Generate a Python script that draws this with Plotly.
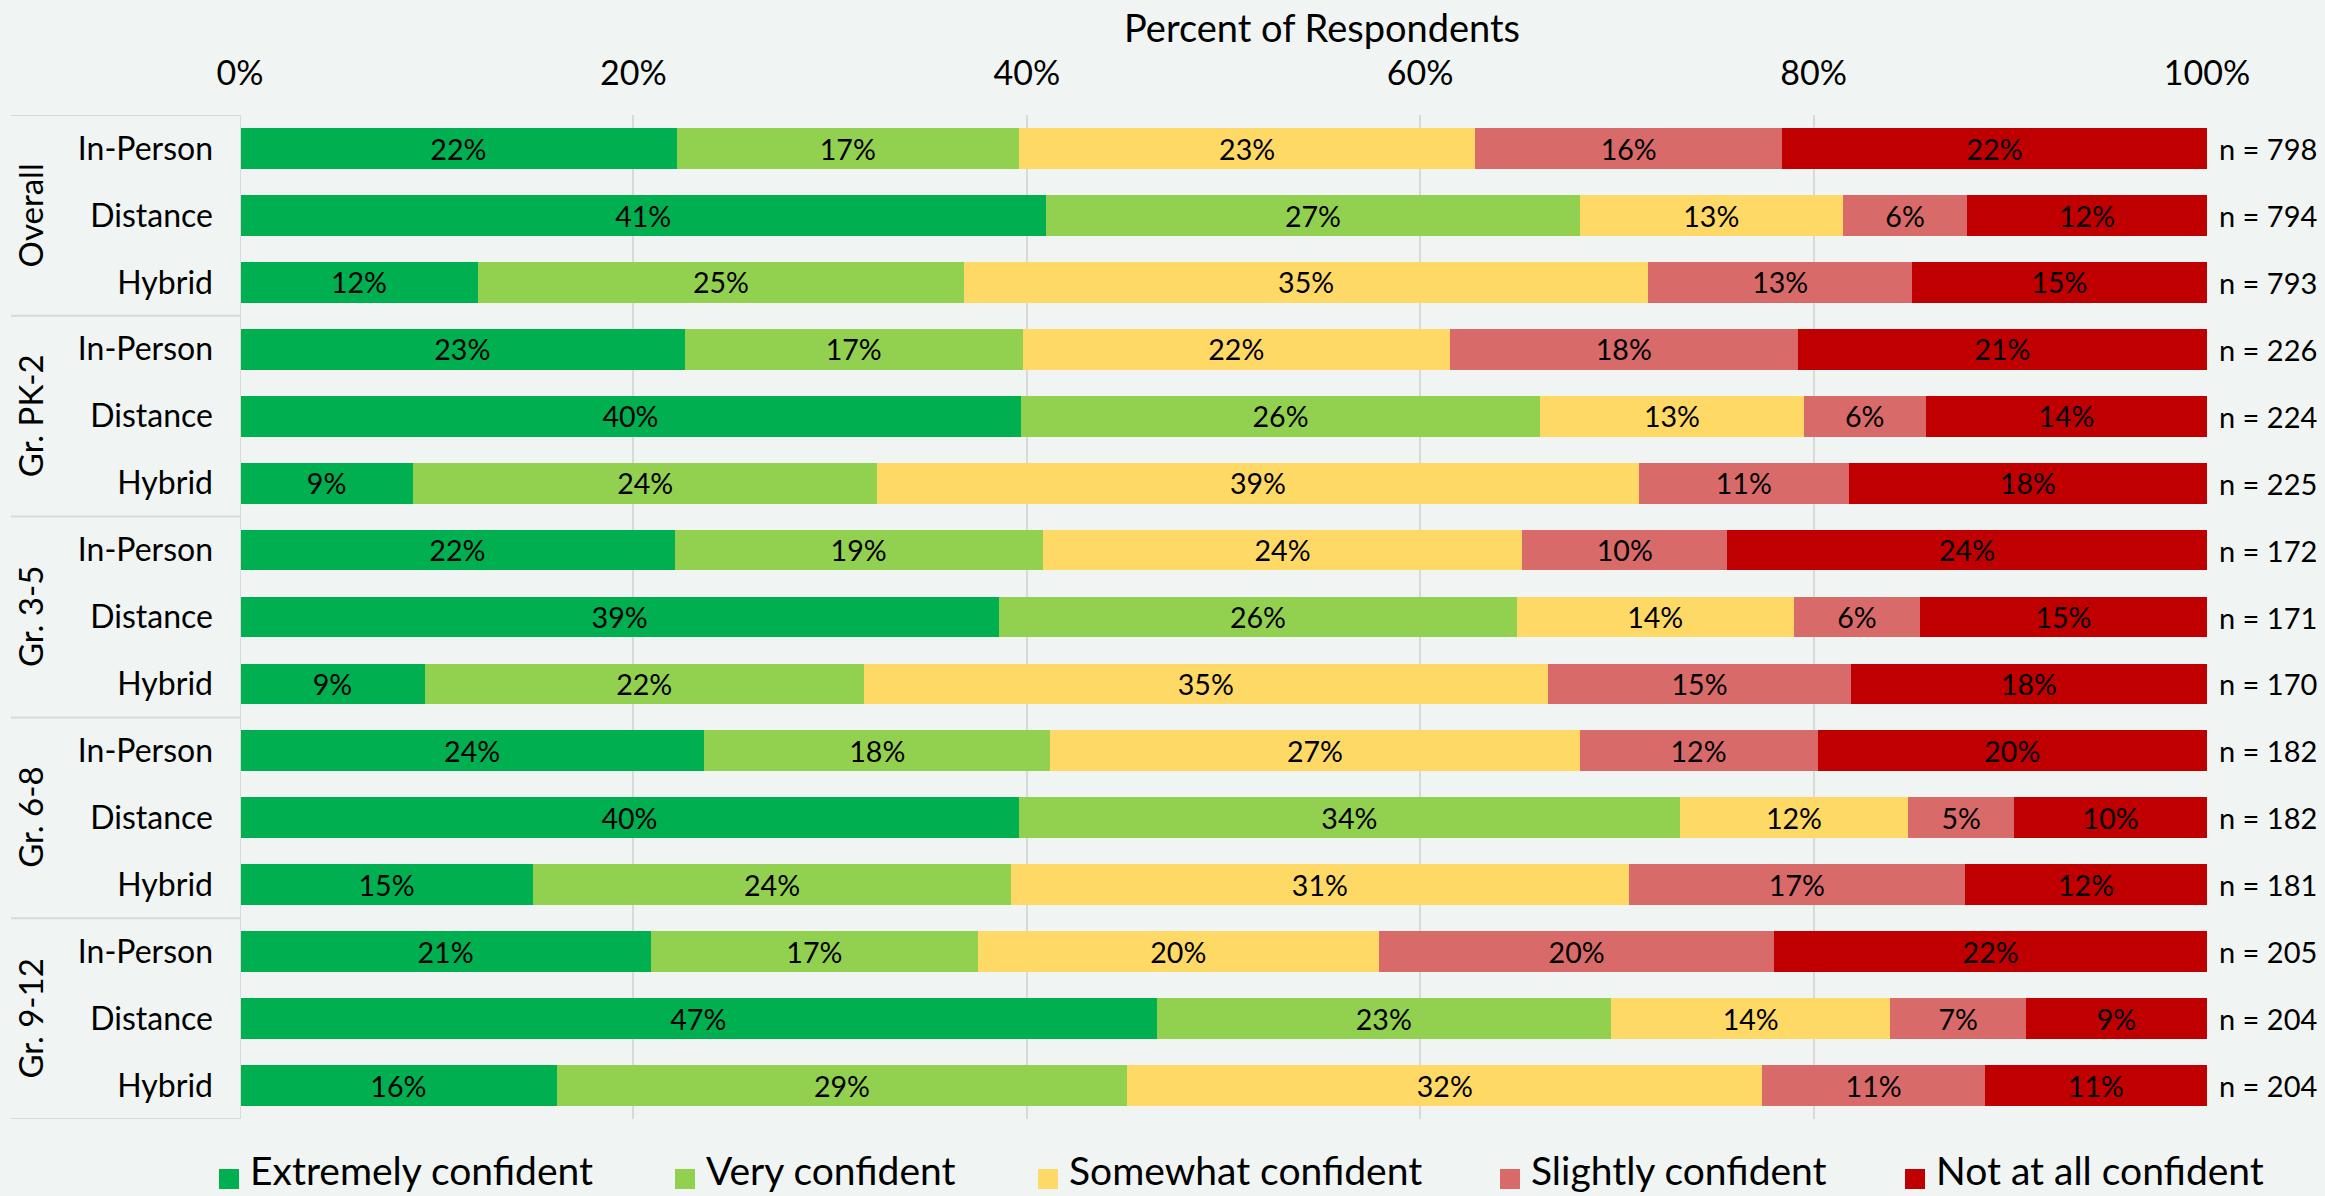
import plotly.graph_objects as go

# ---------------- data ----------------
groups = ["Overall", "Gr. PK-2", "Gr. 3-5", "Gr. 6-8", "Gr. 9-12"]
modes = ["In-Person", "Distance", "Hybrid"]
series_names = ["Extremely confident", "Very confident", "Somewhat confident",
                "Slightly confident", "Not at all confident"]
colors = ["#00B050", "#92D050", "#FFD966", "#D96A6A", "#C00000"]

extremely = [22.2, 41.0, 12.1, 22.6, 39.7, 8.8, 22.1, 38.6, 9.4, 23.6, 39.6, 14.9, 20.9, 46.6, 16.1]
very      = [17.4, 27.1, 24.7, 17.2, 26.4, 23.6, 18.7, 26.3, 22.3, 17.6, 33.6, 24.3, 16.6, 23.1, 29.0]
somewhat  = [23.2, 13.4, 34.8, 21.7, 13.4, 38.7, 24.4, 14.1, 34.8, 26.9, 11.6, 31.4, 20.4, 14.2, 32.3]
slightly  = [15.6, 6.3, 13.4, 17.7, 6.2, 10.7, 10.4, 6.4, 15.4, 12.1, 5.4, 17.1, 20.1, 6.9, 11.3]
not_at_all= [21.6, 12.2, 15.0, 20.8, 14.3, 18.2, 24.4, 14.6, 18.1, 19.8, 9.8, 12.3, 22.0, 9.2, 11.3]
n_values  = [798, 794, 793, 226, 224, 225, 172, 171, 170, 182, 182, 181, 205, 204, 204]
x_ticks = [0, 20, 40, 60, 80, 100]

series = [extremely, very, somewhat, slightly, not_at_all]

# ---------------- layout geometry (pixels) ----------------
W, H = 2325, 1196
L, R, T, B = 240, 2207, 115, 1119
PW, PH = R - L, B - T
def px_x(px):
    return (px - L) / PW
def px_y(py):
    return 1 - (py - T) / PH

FONT = "Lato"
GRID = "#D9D9D9"
BG = "#F0F5F3"

row_labels = [m for g in groups for m in modes]
rows = list(range(len(row_labels)))

fig = go.Figure()
for name, vals, col in zip(series_names, series, colors):
    fig.add_trace(go.Bar(
        y=rows, x=vals, orientation="h", name=name,
        marker=dict(color=col, line=dict(width=0)),
        width=0.61,
        text=[f"{v:.0f}%" for v in vals],
        textposition="inside", insidetextanchor="middle", textangle=0,
        textfont=dict(family=FONT, size=32, color="#000000"),
        hovertemplate="%{x:.0f}%<extra>" + name + "</extra>",
        showlegend=False,
    ))

shapes = []
annotations = []

# table lines on the left
nm = len(modes)
for gi in range(len(groups) + 1):
    yb = gi * nm - 0.5
    shapes.append(dict(type="line", xref="paper", yref="y", x0=px_x(11), x1=0,
                       y0=yb, y1=yb, line=dict(color=GRID, width=2)))
shapes.append(dict(type="line", xref="x", yref="paper", x0=0, x1=0, y0=0, y1=1,
                   line=dict(color=GRID, width=2)))

# group labels (rotated)
for gi, g in enumerate(groups):
    annotations.append(dict(text=g, xref="paper", yref="y", x=px_x(30),
                            y=gi * nm + (nm - 1) / 2, textangle=-90,
                            showarrow=False, xanchor="center", yanchor="middle",
                            font=dict(family=FONT, size=33, color="#000000")))

# n labels on the right
for r, nv in zip(rows, n_values):
    annotations.append(dict(text=f"n = {nv}", xref="paper", yref="y", x=px_x(2217),
                            y=r, showarrow=False, xanchor="left", yanchor="middle",
                            font=dict(family=FONT, size=29, color="#000000")))

# axis title
annotations.append(dict(text="Percent of Respondents", xref="paper", yref="paper",
                        x=px_x(1322), y=px_y(27), showarrow=False,
                        xanchor="center", yanchor="middle",
                        font=dict(family=FONT, size=38, color="#000000")))

# custom legend
legend_px = [219, 675, 1038, 1500, 1905]
for name, col, lx in zip(series_names, colors, legend_px):
    shapes.append(dict(type="rect", xref="paper", yref="paper",
                       x0=px_x(lx), x1=px_x(lx + 20), y0=px_y(1189), y1=px_y(1169),
                       fillcolor=col, line=dict(width=0)))
    annotations.append(dict(text=name, xref="paper", yref="paper",
                            x=px_x(lx + 29), y=px_y(1170), showarrow=False,
                            xanchor="left", yanchor="middle",
                            font=dict(family=FONT, size=39, color="#000000")))

fig.update_layout(
    barmode="stack",
    width=W, height=H,
    margin=dict(l=L, r=W - R, t=T, b=H - B, pad=0),
    paper_bgcolor=BG, plot_bgcolor=BG,
    font=dict(family=FONT, color="#000000"),
    shapes=shapes, annotations=annotations,
    bargap=0.39,
    xaxis=dict(side="top", range=[0, 100], tickvals=x_ticks,
               ticktext=[f"{t}%" for t in x_ticks],
               showgrid=True, gridcolor=GRID, gridwidth=2, zeroline=False,
               showline=False, ticks="", ticklabelstandoff=22,
               tickfont=dict(family=FONT, size=34, color="#000000"), fixedrange=True),
    yaxis=dict(range=[len(rows) - 0.5, -0.5], tickvals=rows, ticktext=row_labels,
               showgrid=False, zeroline=False, showline=False, ticks="",
               ticklabelstandoff=26,
               tickfont=dict(family=FONT, size=32, color="#000000"), fixedrange=True),
)

fig.write_html("out.html", config={"displayModeBar": False},
               post_script="document.body.style.margin='0';document.body.style.overflow='hidden';")
